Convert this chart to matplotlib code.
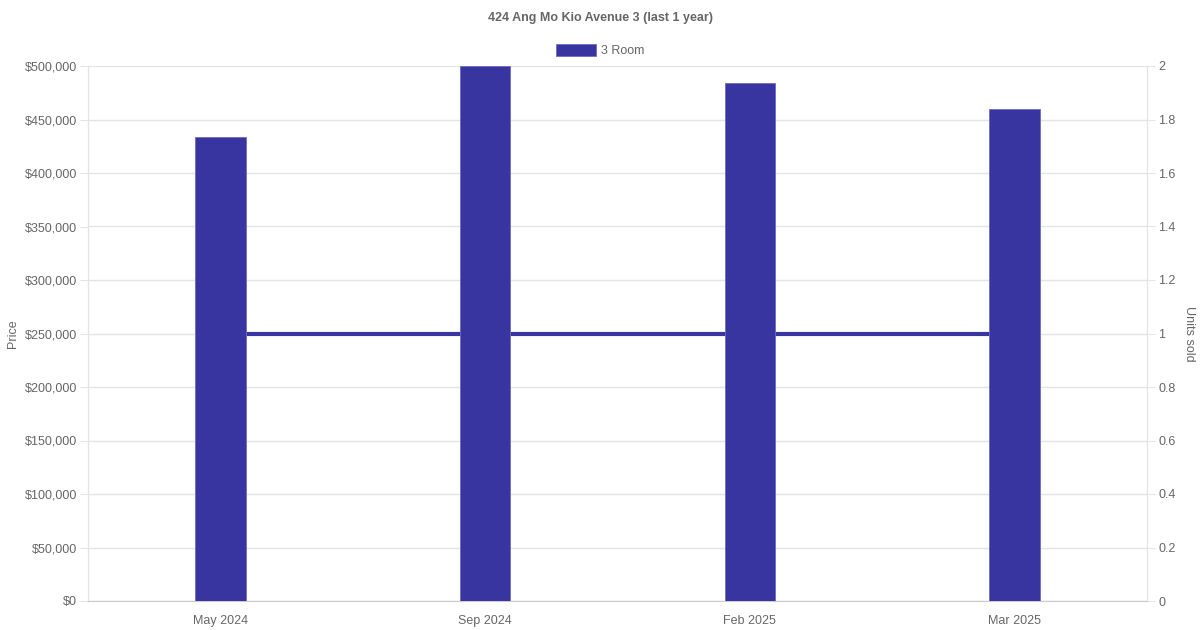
import matplotlib.pyplot as plt
import numpy as np
from matplotlib.ticker import FuncFormatter

plt.rcParams['font.family'] = ['Liberation Sans', 'DejaVu Sans']

months = ['May 2024', 'Sep 2024', 'Feb 2025', 'Mar 2025']
prices = [433500, 500000, 484500, 459500]
units = [1, 1, 1, 1]
color = '#3834a0'
grey = '#666666'
gridc = '#e4e4e4'

fig = plt.figure(figsize=(12, 6.3), dpi=100)
ax = fig.add_axes([88/1200, 1-601/630, (1147-88)/1200, (601-66)/630])
ax2 = ax.twinx()

x = np.arange(len(months))
# line drawn behind bars, grid behind the line
ax.set_zorder(ax2.get_zorder()+1)
ax.patch.set_visible(False)
ax2.plot(x, units, color=color, lw=3, solid_capstyle='butt', zorder=2)
ax.bar(x, prices, width=0.19, color=color, edgecolor='#6f6bc0', linewidth=0.6, zorder=3)

ax.set_xlim(-0.5, len(months)-0.5)
ax.set_ylim(0, 500000)
ax2.set_ylim(0, 2)
ax.set_yticks(np.arange(0, 500001, 50000))
ax2.set_yticks(np.arange(0, 2.01, 0.2))
ax.yaxis.set_major_formatter(FuncFormatter(lambda v, p: '${:,.0f}'.format(v)))
ax2.yaxis.set_major_formatter(FuncFormatter(lambda v, p: '{:g}'.format(round(v, 1))))
ax.set_xticks(x)
ax.set_xticklabels(months)

ax2.grid(axis='y', color=gridc, lw=1)
ax2.set_axisbelow(True)
for a in (ax, ax2):
    for s in a.spines.values():
        s.set_color(gridc)
    a.spines['top'].set_visible(False)
    a.tick_params(colors=grey, labelsize=9, length=6, width=0.75)
    a.tick_params(axis='y', color=gridc, pad=2)
ax.tick_params(axis='x', length=0, pad=10)
ax2.tick_params(axis='x', length=0)
ax.spines['bottom'].set_color('#cccccc')

ax.set_ylabel('Price', color=grey, fontsize=9, labelpad=4)
ax2.set_ylabel('Units sold', color=grey, fontsize=9, rotation=270, labelpad=14)

fig.text(0.5, 1-18/630, '424 Ang Mo Kio Avenue 3 (last 1 year)', ha='center', va='center',
         color=grey, fontsize=9, fontweight='bold')
# legend
fig.patches.append(plt.Rectangle((556/1200, 1-56/630), 40/1200, 12/630, transform=fig.transFigure,
                                 facecolor=color, edgecolor='#6f6bc0', lw=0.6))
fig.text(601/1200, 1-51/630, '3 Room', ha='left', va='center', color=grey, fontsize=9)

plt.savefig('out.png', dpi=100)
